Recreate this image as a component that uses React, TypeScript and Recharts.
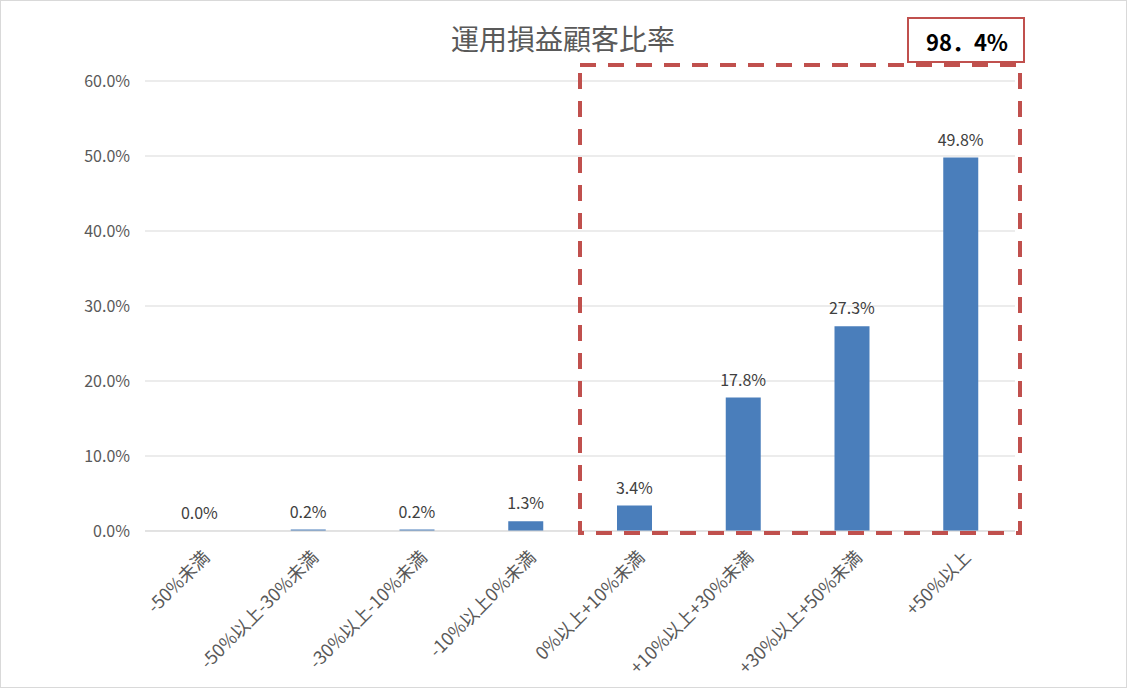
import { ComposedChart, Bar, Line, XAxis, YAxis, CartesianGrid, LabelList } from "recharts";

const categories = [
  "-50%未満",
  "-50%以上-30%未満",
  "-30%以上-10%未満",
  "-10%以上0%未満",
  "0%以上+10%未満",
  "+10%以上+30%未満",
  "+30%以上+50%未満",
  "+50%以上",
];
const ratios = [0.0, 0.2, 0.2, 1.3, 3.4, 17.8, 27.3, 49.8];
const yTicks = [0, 10, 20, 30, 40, 50, 60];
const title = "運用損益顧客比率";
const highlightLabel = "98．4%";
const highlightFrom = 4; // first category inside the red box

const W = 1127;
const H = 688;
const margin = { top: 81, right: 112, left: 0, bottom: 0 };
const Y_WIDTH = 145;
const X_HEIGHT = 157;

const data = categories.map((name, i) => ({ name, value: ratios[i] }));

const FONT = '"Noto Sans CJK JP", "Noto Sans", sans-serif';
const RED = "#c0504d";

const XTick = ({ x, y, payload }: any) => (
  <g transform={`translate(${x + 7},${y + 15})`}>
    <text
      textAnchor="end"
      dy="0.35em"
      transform="rotate(-45)"
      fill="#595959"
      fontSize={18}
      fontFamily={FONT}
    >
      {payload.value}
    </text>
  </g>
);

export default function App() {
  const plotLeft = margin.left + Y_WIDTH;
  const plotRight = W - margin.right;
  const plotTop = margin.top;
  const plotBottom = H - margin.bottom - X_HEIGHT;
  const band = (plotRight - plotLeft) / categories.length;
  const boxLeft = plotLeft + band * highlightFrom;

  return (
    <div style={{ position: "absolute", left: 0, top: 0, width: W, height: H, background: "#fff" }}>
      <ComposedChart width={W} height={H} data={data} margin={margin} barCategoryGap="0%">
        <CartesianGrid vertical={false} stroke="#d9d9d9" />
        <XAxis
          dataKey="name"
          height={X_HEIGHT}
          axisLine={{ stroke: "#d9d9d9" }}
          tickLine={false}
          interval={0}
          tick={<XTick />}
        />
        <YAxis
          width={Y_WIDTH}
          domain={[0, 60]}
          ticks={yTicks}
          axisLine={false}
          tickLine={false}
          tickMargin={9}
          tickFormatter={(v: number) => `${v.toFixed(1)}%`}
          tick={{ fill: "#595959", fontSize: 16, fontFamily: FONT }}
        />
        <Bar dataKey="value" fill="#4a7ebb" barSize={35} isAnimationActive={false} />
        {/* invisible line so that zero-height bars still get their label */}
        <Line
          dataKey="value"
          stroke="none"
          dot={false}
          activeDot={false}
          isAnimationActive={false}
        >
          <LabelList
            dataKey="value"
            position="top"
            offset={12}
            formatter={(v: any) => `${Number(v).toFixed(1)}%`}
            style={{ fill: "#404040", fontSize: 16, fontFamily: FONT }}
          />
        </Line>
      </ComposedChart>
      <svg
        width={W}
        height={H}
        style={{ position: "absolute", left: 0, top: 0, pointerEvents: "none" }}
      >
        <text
          x={563}
          y={38}
          textAnchor="middle"
          dominantBaseline="central"
          fill="#595959"
          fontSize={28}
          fontFamily={FONT}
        >
          {title}
        </text>
        <rect x={908} y={18} width={116} height={44} fill="#fff" stroke={RED} strokeWidth={2} />
        <text
          x={967}
          y={41}
          textAnchor="middle"
          dominantBaseline="central"
          fill="#000"
          fontSize={22}
          fontWeight="bold"
          fontFamily={FONT}
        >
          {highlightLabel}
        </text>
        <rect
          x={boxLeft}
          y={plotTop - 16}
          width={plotRight + 5 - boxLeft}
          height={plotBottom + 2 - (plotTop - 16)}
          fill="none"
          stroke={RED}
          strokeWidth={4}
          strokeDasharray="16 12"
        />
        <rect x={0.5} y={0.5} width={W - 1} height={H - 1} fill="none" stroke="#d9d9d9" />
      </svg>
    </div>
  );
}
